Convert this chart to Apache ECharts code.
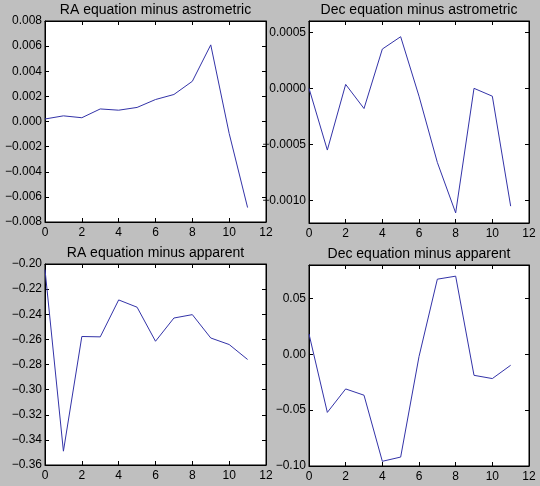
<!DOCTYPE html>
<html>
<head>
<meta charset="utf-8">
<script src="https://cdn.jsdelivr.net/npm/echarts@6/dist/echarts.min.js"></script>
<style>
html,body{margin:0;padding:0;background:#bfbfbf;}
#c{width:540px;height:486px;}
</style>
</head>
<body>
<div id="c"></div>
<script>
var xValues = [0,1,2,3,4,5,6,7,8,9,10,11];
var raAstrometric = [0.0002,0.00045,0.0003,0.001,0.0009,0.00112,0.00175,0.00215,0.0032,0.0061,-0.00095,-0.00685];
var decAstrometric = [0.0,-0.00055,0.000035,-0.00018,0.00035,0.00046,-0.00007,-0.00066,-0.00111,0.0,-0.00007,-0.00105];
var raApparent = [-0.2045,-0.349,-0.2577,-0.258,-0.2286,-0.2344,-0.2615,-0.243,-0.2403,-0.2589,-0.2641,-0.276];
var decApparent = [0.0182,-0.052,-0.031,-0.0366,-0.0958,-0.092,-0.002,0.0673,0.070,-0.0188,-0.0217,-0.0098];
var titles = ['RA equation minus astrometric','Dec equation minus astrometric','RA equation minus apparent','Dec equation minus apparent'];
var xTicks = [0,2,4,6,8,10,12];
var yTicks2 = [-0.001,-0.0005,0,0.0005];
var yTicks4 = [-0.10,-0.05,0,0.05];

var FONT = 'Liberation Sans';
function fmt(d){
  return function(v){
    if (Math.abs(v) < 1e-12) v = 0;
    return (v < 0 ? '\u2212' : '') + Math.abs(v).toFixed(d);
  };
}
var grids = [
  {left:45, top:21, width:221, height:201},
  {left:309, top:21, width:220, height:202},
  {left:45, top:264, width:221, height:201},
  {left:309, top:265, width:220, height:201}
];
var yCfg = [
  {min:-0.008, max:0.008, interval:0.002, dec:3},
  {min:-0.0012, max:0.0006, custom:yTicks2, dec:4},
  {min:-0.36, max:-0.20, interval:0.02, dec:2},
  {min:-0.10, max:0.08, custom:yTicks4, dec:2}
];
var seriesData = [raAstrometric, decAstrometric, raApparent, decApparent];

var option = {
  backgroundColor:'#bfbfbf',
  animation:false,
  title:[], grid:[], xAxis:[], yAxis:[], series:[]
};
var tickStyle = {show:true, inside:true, length:4, lineStyle:{color:'#000', width:1}};
grids.forEach(function(g, i){
  option.grid.push({left:g.left, top:g.top, width:g.width, height:g.height, show:true,
    backgroundColor:'#fff', borderColor:'#000', borderWidth:1, containLabel:false});
  option.title.push({text:titles[i], left:g.left + g.width/2, top:g.top - 18, padding:0, textAlign:'center',
    textStyle:{fontFamily:FONT, fontSize:14, fontWeight:'normal', color:'#000'}});
  ['bottom','top'].forEach(function(pos){
    option.xAxis.push({type:'value', gridIndex:i, position:pos, min:0, max:12, interval:2,
      axisLine:{show:true, onZero:false, lineStyle:{color:'#000', width:1}},
      axisTick:tickStyle, splitLine:{show:false},
      axisLabel:{show:pos==='bottom', margin:5, color:'#000', fontFamily:FONT, fontSize:12,
        showMinLabel:true, showMaxLabel:true}});
  });
  var c = yCfg[i];
  ['left','right'].forEach(function(pos){
    var ax = {type:'value', gridIndex:i, position:pos, min:c.min, max:c.max,
      axisLine:{show:true, onZero:false, lineStyle:{color:'#000', width:1}},
      axisTick:Object.assign({}, tickStyle), splitLine:{show:false},
      axisLabel:{show:pos==='left', margin:3, color:'#000', fontFamily:FONT, fontSize:12,
        formatter:fmt(c.dec), showMinLabel:true, showMaxLabel:true}};
    if (c.custom) {
      ax.axisTick.customValues = c.custom;
      ax.axisLabel.customValues = c.custom;
    } else {
      ax.interval = c.interval;
    }
    option.yAxis.push(ax);
  });
  option.series.push({type:'line', xAxisIndex:i*2, yAxisIndex:i*2, symbol:'none',
    lineStyle:{color:'#3333a8', width:1}, itemStyle:{color:'#3333a8'},
    data: xValues.map(function(x, k){ return [x, seriesData[i][k]]; })});
});
var chart = echarts.init(document.getElementById('c'), null, {renderer:'canvas'});
chart.setOption(option);
</script>
</body>
</html>
